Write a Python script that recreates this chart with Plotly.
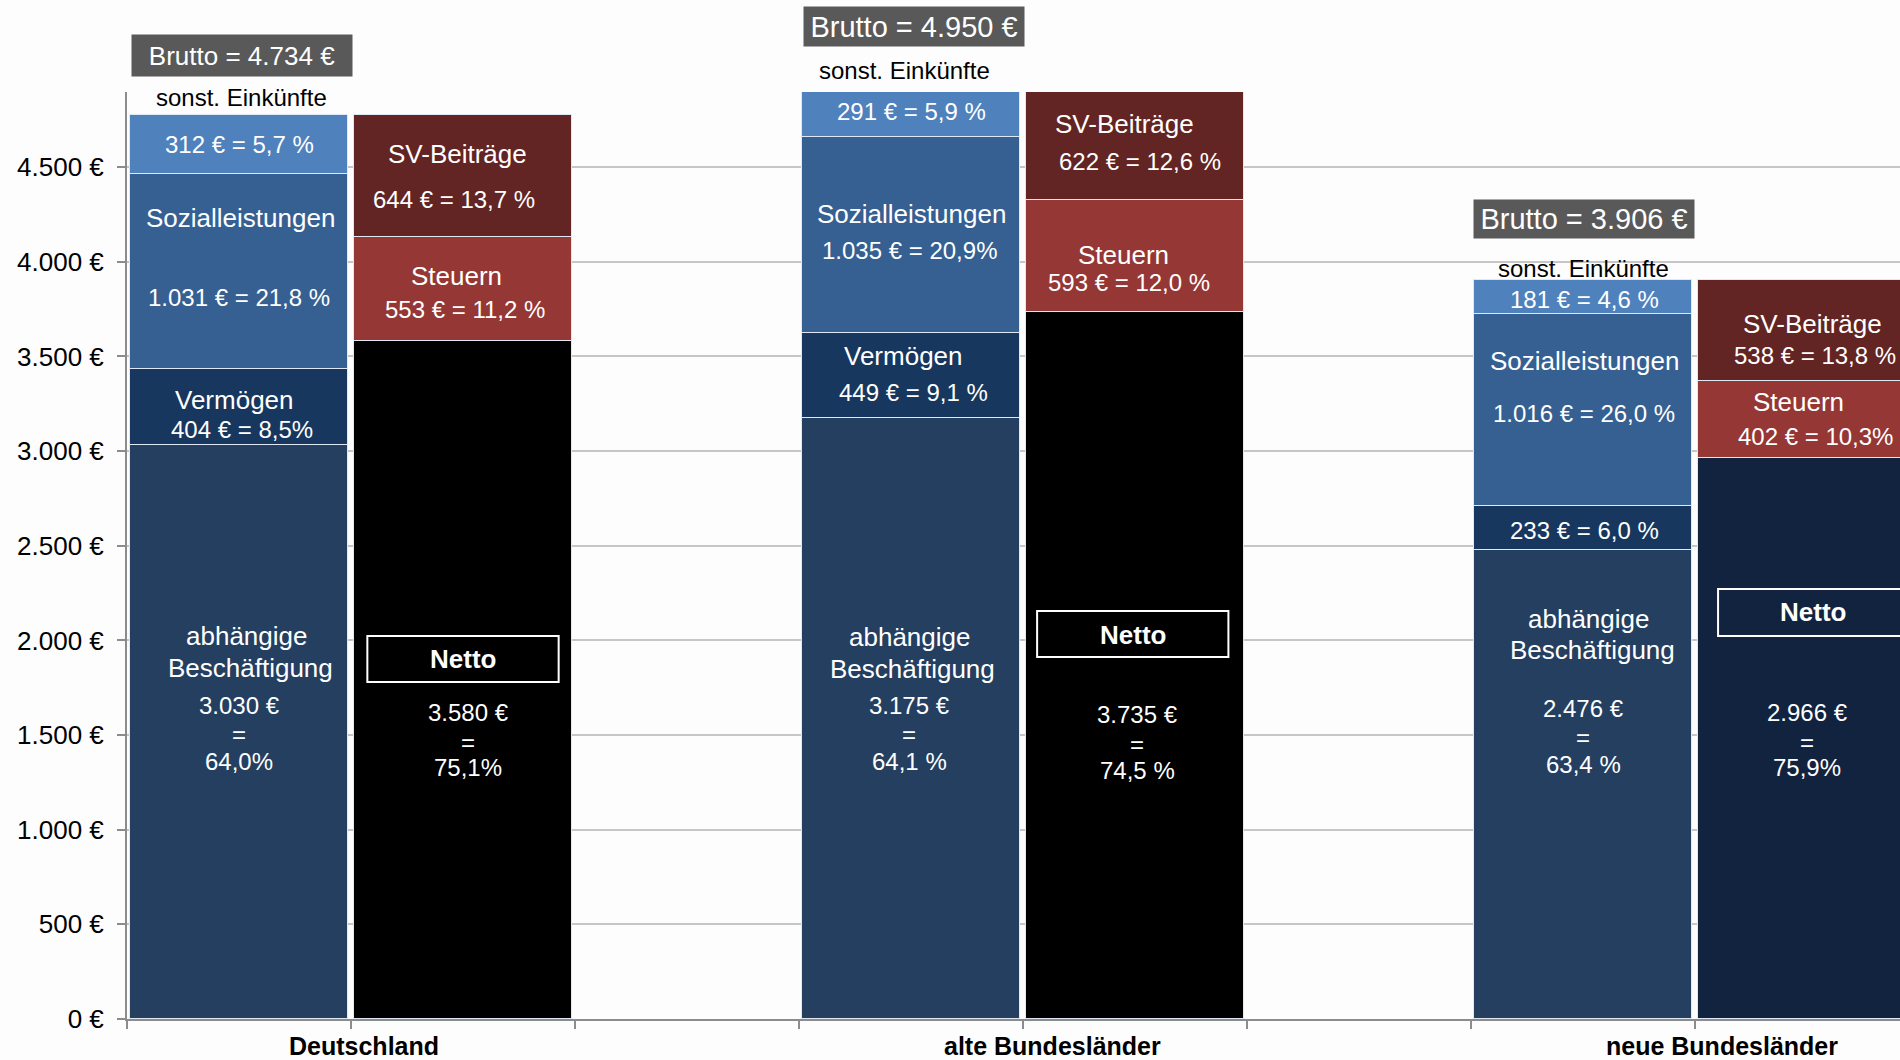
import plotly.graph_objects as go

# ---------------- data ----------------
regions = ["Deutschland", "alte Bundesländer", "neue Bundesländer"]
brutto = [4734, 4950, 3906]

# income side (left bar of each region)
abh = [3030, 3175, 2476]
abh_pct = ["64,0%", "64,1 %", "63,4 %"]
verm = [404, 449, 233]
verm_pct = ["8,5%", "9,1 %", "6,0 %"]
sozial = [1031, 1035, 1016]
sozial_pct = ["21,8 %", "20,9%", "26,0 %"]
sonst = [312, 291, 181]
sonst_pct = ["5,7 %", "5,9 %", "4,6 %"]

# use side (right bar of each region)
netto = [3580, 3735, 2966]
netto_pct = ["75,1%", "74,5 %", "75,9%"]
steuern = [553, 593, 402]
steuern_pct = ["11,2 %", "12,0 %", "10,3%"]
sv = [644, 622, 538]
sv_pct = ["13,7 %", "12,6 %", "13,8 %"]

y_ticks = [0, 500, 1000, 1500, 2000, 2500, 3000, 3500, 4000, 4500]

# ---------------- styling / layout constants ----------------
FONT = "Liberation Sans, Arial, sans-serif"
C_ABH = "#243F60"
C_VERM = "#17375E"
C_SOZ = "#366092"
C_SONST = "#4F81BD"
C_SV = "#632523"
C_ST = "#953735"
C_NETTO = ["#000000", "#000000", "#12233F"]
BG = "#FDFDFD"

W, H = 1900, 1060
M_L, M_R, M_T, M_B = 127, 0, 92, 41
PLOT_H = H - M_T - M_B
SLOT = 224.0                       # px per category slot
X_MIN = -0.5
X_MAX = X_MIN + (W - M_L - M_R) / SLOT
Y_MAX = 4897

left_slots = [0, 3, 6]
right_slots = [1, 4, 7]
cat_label_dx = [0.56, 0.63, 0.62]
BAR_W = 0.97


def de(n):
    return f"{n:,}".replace(",", ".")


def px_to_x(px):
    return (px - M_L) / SLOT - 0.5


def py_to_paper(py):
    return (H - M_B - py) / PLOT_H


def py_to_y(py):
    return (H - M_B - py) / PLOT_H * Y_MAX


fig = go.Figure()
line = dict(color="rgba(225,232,245,1)", width=1.5)

for vals, col in [(abh, C_ABH), (verm, C_VERM), (sozial, C_SOZ), (sonst, C_SONST)]:
    fig.add_trace(go.Bar(x=left_slots, y=vals, width=BAR_W,
                         marker=dict(color=col, line=line), hoverinfo="skip"))
for vals, col in [(netto, C_NETTO), (steuern, C_ST), (sv, C_SV)]:
    fig.add_trace(go.Bar(x=right_slots, y=vals, width=BAR_W,
                         marker=dict(color=col, line=line), hoverinfo="skip"))

ann = []


def label(text, px, py, size=24, color="white", bold=False):
    ann.append(dict(
        x=px_to_x(px), xref="x", y=py_to_paper(py), yref="paper",
        text=f"<b>{text}</b>" if bold else text, showarrow=False,
        xanchor="center", yanchor="middle",
        font=dict(family=FONT, size=size, color=color)))


lay = [
    dict(sonst_t=97, sonst_v=(239, 145), soz_t=(240, 218), soz_v=(239, 297),
         verm_t=(234, 400), verm_v=(242, 429), abh_t=(246, 636), abh_t2=(250, 668),
         abh_v=(239, 705), sv_t=(457, 154), sv_v=(454, 200), st_t=(456, 276),
         st_v=(465, 309), net_t=(463, 659), net_v=(468, 712),
         sonst_x=241, box=(242, 55.5, 41, 26), net_box=(636, 682, 0.0)),
    dict(sonst_t=71, sonst_v=(911, 111), soz_t=(911, 214), soz_v=(909, 250),
         verm_t=(903, 356), verm_v=(913, 393), abh_t=(909, 637), abh_t2=(912, 669),
         abh_v=(909, 705), sv_t=(1124, 124), sv_v=(1140, 161), st_t=(1123, 255),
         st_v=(1129, 282), net_t=(1133, 635), net_v=(1137, 714),
         sonst_x=904, box=(914, 26.5, 39, 29), net_box=(611, 657, -0.01)),
    dict(sonst_t=268, sonst_v=(1584, 299), soz_t=(1584, 361), soz_v=(1584, 413),
         verm_t=None, verm_v=(1584, 530), abh_t=(1588, 619), abh_t2=(1592, 650),
         abh_v=(1583, 708), sv_t=(1812, 324), sv_v=(1815, 355), st_t=(1798, 402),
         st_v=(1815, 436), net_t=(1813, 612), net_v=(1807, 712),
         sonst_x=1583, box=(1584, 219, 38, 29), net_box=(589, 636, 0.03)),
]

shapes = []
for i, L in enumerate(lay):
    bx, by, bh, bs = L["box"]
    ann.append(dict(
        x=px_to_x(bx), xref="x", y=py_to_paper(by), yref="paper",
        text=f"Brutto = {de(brutto[i])} €", showarrow=False,
        xanchor="center", yanchor="middle", width=220, height=bh,
        bgcolor="#595959", borderpad=0, align="center", valign="middle",
        font=dict(family=FONT, size=bs, color="white")))
    label("sonst. Einkünfte", L["sonst_x"], L["sonst_t"], 24, "black")
    label(f"{de(sonst[i])} € = {sonst_pct[i]}", *L["sonst_v"])
    label("Sozialleistungen", *L["soz_t"], size=26)
    label(f"{de(sozial[i])} € = {sozial_pct[i]}", *L["soz_v"])
    if L["verm_t"]:
        label("Vermögen", *L["verm_t"], size=26)
    label(f"{de(verm[i])} € = {verm_pct[i]}", *L["verm_v"])
    label("abhängige", *L["abh_t"], size=26)
    label("Beschäftigung", *L["abh_t2"], size=26)
    ax_, ay_ = L["abh_v"]
    label(f"{de(abh[i])} €", ax_, ay_)
    label("=", ax_, ay_ + 29)
    label(abh_pct[i], ax_, ay_ + 56)
    label("SV-Beiträge", *L["sv_t"], size=26)
    label(f"{de(sv[i])} € = {sv_pct[i]}", *L["sv_v"])
    label("Steuern", *L["st_t"], size=26)
    label(f"{de(steuern[i])} € = {steuern_pct[i]}", *L["st_v"])
    label("Netto", *L["net_t"], size=26, bold=True)
    nx, ny = L["net_v"]
    label(f"{de(netto[i])} €", nx, ny)
    label("=", nx, ny + 30)
    label(netto_pct[i], nx, ny + 56)
    t, b, dx = L["net_box"]
    s = right_slots[i]
    shapes.append(dict(type="rect", xref="x", yref="y",
                       x0=s - 0.427 + dx, x1=s + 0.427 + dx,
                       y0=py_to_y(b), y1=py_to_y(t),
                       line=dict(color="white", width=2), fillcolor="rgba(0,0,0,0)",
                       layer="above"))
    ann.append(dict(
        x=left_slots[i] + cat_label_dx[i], xref="x", y=py_to_paper(1046), yref="paper",
        text=f"<b>{regions[i]}</b>", showarrow=False, xanchor="center",
        yanchor="middle", font=dict(family=FONT, size=25, color="black")))

fig.update_layout(
    width=W, height=H,
    margin=dict(l=M_L, r=M_R, t=M_T, b=M_B, pad=0),
    barmode="stack", bargap=0, showlegend=False, hovermode=False,
    paper_bgcolor=BG, plot_bgcolor=BG,
    font=dict(family=FONT, size=26, color="black"),
    annotations=ann, shapes=shapes,
    xaxis=dict(range=[X_MIN, X_MAX], showgrid=False, zeroline=False,
               tickvals=[k - 0.5 for k in range(9)], ticktext=[""] * 9,
               ticks="outside", ticklen=8, tickwidth=2, tickcolor="#8C8C8C",
               showline=True, linecolor="#8C8C8C", linewidth=2),
    yaxis=dict(range=[0, Y_MAX], tickvals=y_ticks,
               ticktext=[f"{de(v)} €" for v in y_ticks],
               tickfont=dict(family=FONT, size=26, color="black"),
               ticks="outside", ticklen=8, tickwidth=2, tickcolor="#8C8C8C",
               ticklabelstandoff=8,
               showgrid=True, gridcolor="#C6C6C6", gridwidth=2,
               zeroline=False, showline=True, linecolor="#8C8C8C", linewidth=2),
)

fig.write_html("out.html", config={"displayModeBar": False},
               post_script="document.body.style.margin='0';")
